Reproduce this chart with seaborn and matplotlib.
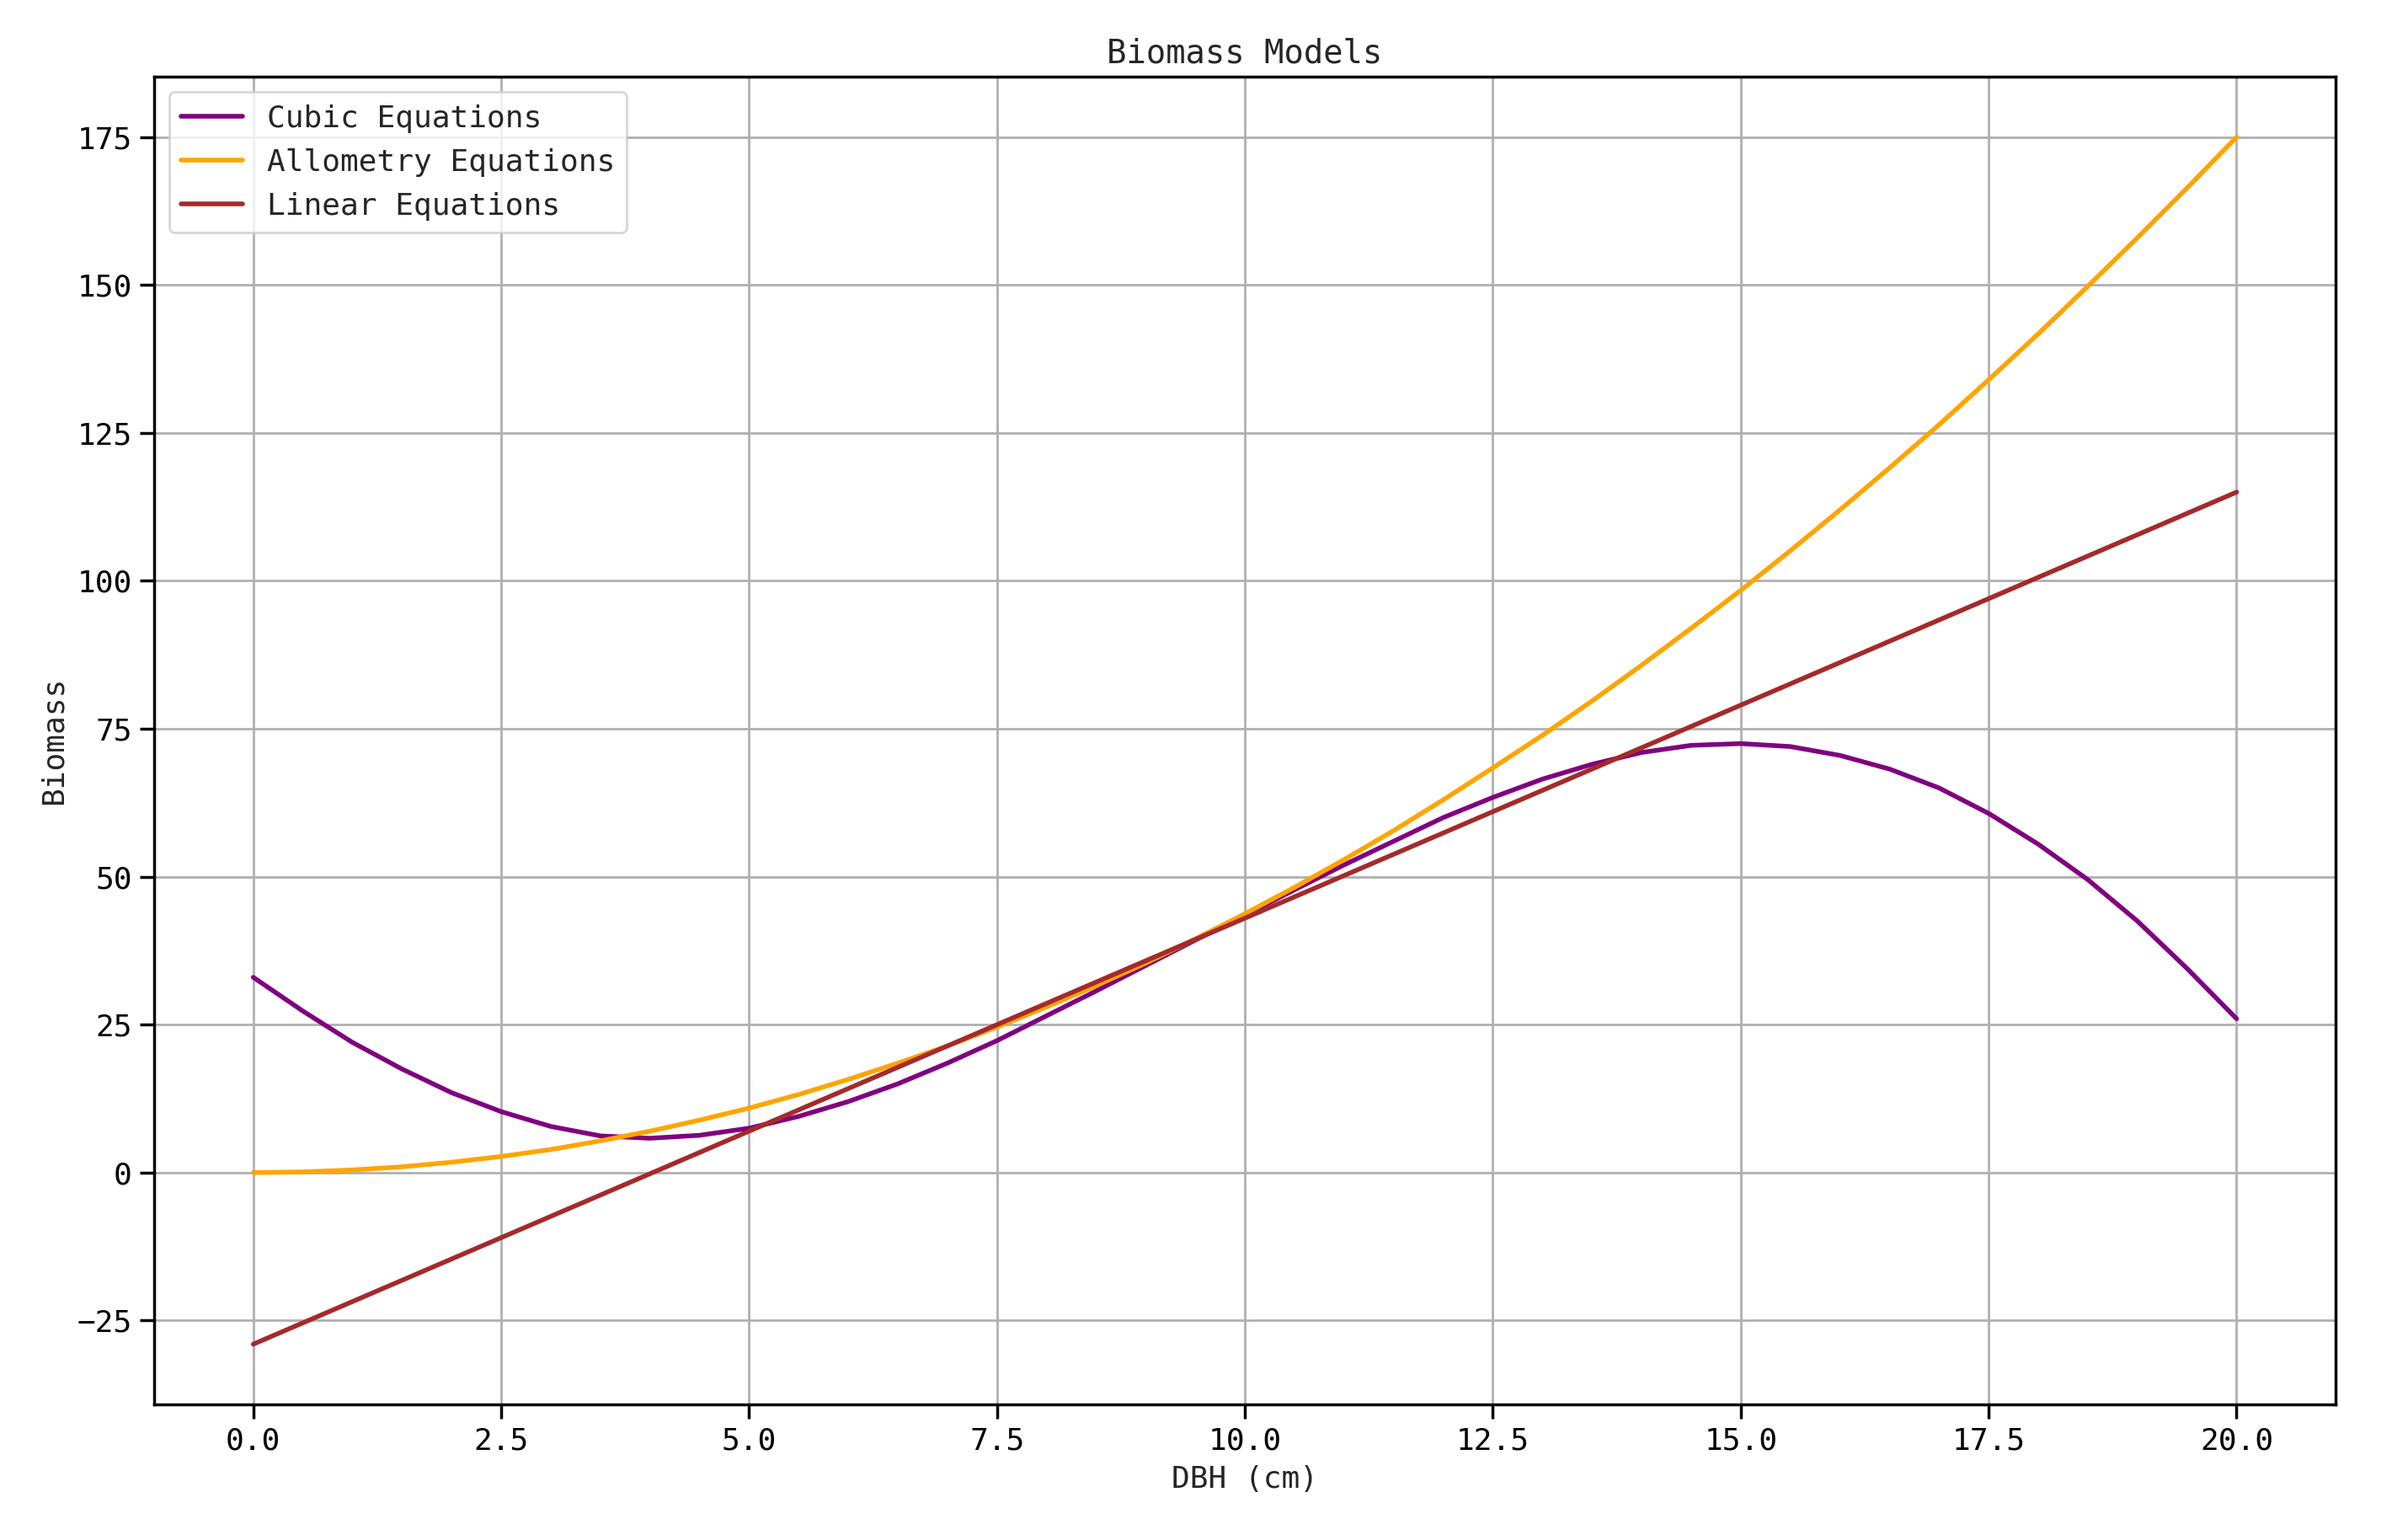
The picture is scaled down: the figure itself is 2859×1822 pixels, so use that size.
import matplotlib
matplotlib.use("Agg")
import matplotlib.pyplot as plt
import seaborn as sns
import pandas as pd

dbh = [i * 0.5 for i in range(41)]
cubic = [33, 27.3, 22, 17.5, 13.5, 10.3, 7.8, 6.2, 5.8, 6.3, 7.5, 9.5, 12, 15, 18.5, 22.3, 26.5, 30.7,
         35, 39.3, 43.5, 47.8, 52, 56, 60, 63.4, 66.5, 69, 71, 72.2, 72.5, 72, 70.5, 68.2, 65, 60.7,
         55.5, 49.5, 42.5, 34.5, 26]
allometry = [0, 0.11, 0.44, 0.98, 1.75, 2.73, 3.9, 5.36, 7, 8.86, 10.9, 13.2, 15.75, 18.5, 21.4, 24.6,
             28, 31.6, 35.4, 39.5, 43.75, 48.2, 52.9, 57.8, 63, 68.4, 73.9, 79.7, 85.75, 92, 98.4, 105.1,
             112, 119.1, 126.4, 134, 141.75, 149.8, 158, 166.4, 175]
linear = [-29 + 3.6 * i for i in range(41)]
names = ["Cubic Equations", "Allometry Equations", "Linear Equations"]
colors = ["purple", "orange", "#a52a2a"]

sns.set_theme(style="ticks")
plt.rcParams['font.family'] = ['DejaVu Sans Mono', 'Noto Sans CJK SC']

n = len(dbh)
df = pd.DataFrame({"DBH": dbh * 3,
                   "Biomass": cubic + allometry + linear,
                   "Model": [names[0]] * n + [names[1]] * n + [names[2]] * n})

fig, ax = plt.subplots(figsize=(14.295, 9.11), dpi=200)
sns.lineplot(data=df, x="DBH", y="Biomass", hue="Model", palette=colors, linewidth=2, ax=ax)
ax.set_title("Biomass Models", fontsize=14)
ax.set_xlabel("DBH (cm)", fontsize=13)
ax.set_ylabel("Biomass", fontsize=13)
ax.tick_params(labelsize=13, colors="black")
ax.set_xticks([0, 2.5, 5, 7.5, 10, 12.5, 15, 17.5, 20])
ax.set_yticks([-25, 0, 25, 50, 75, 100, 125, 150, 175])
ax.grid(True, color="#b0b0b0", linewidth=1)
for s in ax.spines.values():
    s.set_color("black")
ax.legend(loc="upper left", fontsize=13, title=None, frameon=True, fancybox=True)
fig.subplots_adjust(left=0.064, right=0.970, bottom=0.085, top=0.95)
fig.savefig("out.png", dpi=200)
